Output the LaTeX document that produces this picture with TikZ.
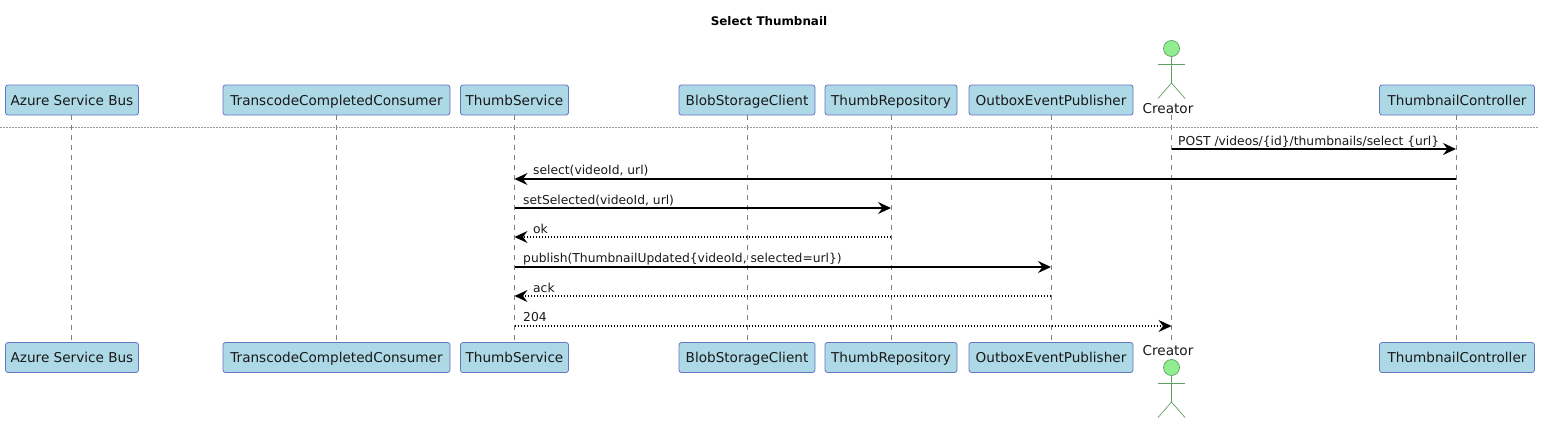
\documentclass[tikz,border=0pt]{standalone}
\usepackage{fontspec}
\setmainfont{DejaVu Sans}
\usepackage{xcolor}
\usepackage{tikz}
\usetikzlibrary{arrows.meta,positioning,calc}
\definecolor{partfill}{HTML}{ADD8E6}
\definecolor{partline}{HTML}{6475C4}
\definecolor{actfill}{HTML}{90EE90}
\definecolor{actline}{HTML}{5F9F5F}

\begin{document}
\begin{tikzpicture}[
    x=1pt, y=-1pt,
    part/.style={rectangle, draw=partline, fill=partfill, line width=0.8pt, minimum height=30pt, inner sep=0pt, text height=11pt, text depth=1pt, rounded corners=2.5pt, text=black!90, font=\fontsize{13.6}{16}\selectfont},
    actorname/.style={inner sep=0pt, text=black!90, font=\fontsize{13.6}{16}\selectfont},
    lifeline/.style={draw=black!50, line width=0.7pt, dash pattern=on 5pt off 5pt},
    divider/.style={draw=black!40, line width=0.6pt, dash pattern=on 2pt off 1pt},
    actorbody/.style={draw=actline, line width=0.7pt},
    actorhead/.style={circle, draw=actline, fill=actfill, line width=0.7pt, minimum size=16pt, inner sep=0pt},
    msg/.style={draw=black, line width=1.5pt, -{Stealth[length=13pt,width=12pt,inset=4.5pt]}},
    reply/.style={msg, dash pattern=on 1.5pt off 1.5pt},
    msglabel/.style={anchor=base west, inner sep=0pt, text=black!90, font=\fontsize{12.3}{14}\selectfont}
]
    \useasboundingbox (0,0) rectangle (1545,423);

    % Title
    \node[inner sep=0pt, font=\fontsize{11.9}{14}\selectfont\bfseries] (title) at (769,21) {Select Thumbnail};

    % Participants, top row
    \node[part, minimum width=133pt] (busT) at (72,100) {Azure Service Bus};
    \node[part, minimum width=227pt] (consumerT) at (336.5,100) {TranscodeCompletedConsumer};
    \node[part, minimum width=108pt] (thumbT) at (514.5,100) {ThumbService};
    \node[part, minimum width=136pt] (blobT) at (747,100) {BlobStorageClient};
    \node[part, minimum width=132pt] (repoT) at (891,100) {ThumbRepository};
    \node[part, minimum width=164pt] (outboxT) at (1051,100) {OutboxEventPublisher};
    \node[part, minimum width=155pt] (ctrlT) at (1457,100) {ThumbnailController};

    % Participants, bottom row
    \node[part, minimum width=133pt] (busB) at (72,357.5) {Azure Service Bus};
    \node[part, minimum width=227pt] (consumerB) at (336.5,357.5) {TranscodeCompletedConsumer};
    \node[part, minimum width=108pt] (thumbB) at (514.5,357.5) {ThumbService};
    \node[part, minimum width=136pt] (blobB) at (747,357.5) {BlobStorageClient};
    \node[part, minimum width=132pt] (repoB) at (891,357.5) {ThumbRepository};
    \node[part, minimum width=164pt] (outboxB) at (1051,357.5) {OutboxEventPublisher};
    \node[part, minimum width=155pt] (ctrlB) at (1457,357.5) {ThumbnailController};

    % Lifeline ends
    \coordinate (busL) at (71.5,115);
    \coordinate (consumerL) at (336.5,115);
    \coordinate (thumbL) at (514.5,115);
    \coordinate (blobL) at (747,115);
    \coordinate (repoL) at (891,115);
    \coordinate (outboxL) at (1051,115);
    \coordinate (creatorL) at (1171.5,115);
    \coordinate (ctrlL) at (1456,115);

    % Lifelines
    \draw[lifeline] (busL) -- (busL |- busB.north);
    \draw[lifeline] (consumerL) -- (consumerL |- consumerB.north);
    \draw[lifeline] (thumbL) -- (thumbL |- thumbB.north);
    \draw[lifeline] (blobL) -- (blobL |- blobB.north);
    \draw[lifeline] (repoL) -- (repoL |- repoB.north);
    \draw[lifeline] (outboxL) -- (outboxL |- outboxB.north);
    \draw[lifeline] (creatorL) -- (creatorL |- ctrlB.north);
    \draw[lifeline] (ctrlL) -- (ctrlL |- ctrlB.north);

    % Divider
    \coordinate (divL) at (0,127);
    \coordinate (divR) at (1539,127);
    \draw[divider] (divL) -- (divR);

    % Creator, top
    \node[actorhead] (headT) at (1171.5,48.5) {};
    \coordinate (hipT) at (1171.5,83);
    \draw[actorbody] (headT.south) -- (hipT);
    \draw[actorbody] (1158,64) -- (1185,64);
    \draw[actorbody] (1158,98.5) -- (hipT) -- (1185,98.5);
    \node[actorname] (creatorNameT) at (1168,109) {Creator};

    % Creator, bottom
    \node[actorhead] (headB) at (1171.5,367.5) {};
    \coordinate (hipB) at (1171.5,402);
    \draw[actorbody] (headB.south) -- (hipB);
    \draw[actorbody] (1158,383) -- (1185,383);
    \draw[actorbody] (1158,417.5) -- (hipB) -- (1185,417.5);
    \node[actorname] (creatorNameB) at (1168,351) {Creator};

    % Messages
    \draw[msg] (creatorL |- 0,149) -- (ctrlL |- 0,149);
    \node[msglabel] (m1) at (1178,145) {POST /videos/\{id\}/thumbnails/select \{url\}};
    \draw[msg] (ctrlL |- 0,179) -- (thumbL |- 0,179);
    \node[msglabel] (m2) at (533,174) {select(videoId, url)};
    \draw[msg] (thumbL |- 0,208) -- (repoL |- 0,208);
    \node[msglabel] (m3) at (523,204) {setSelected(videoId, url)};
    \draw[reply] (repoL |- 0,237) -- (thumbL |- 0,237);
    \node[msglabel] (m4) at (533,233) {ok};
    \draw[msg] (thumbL |- 0,267) -- (outboxL |- 0,267);
    \node[msglabel] (m5) at (523,262) {publish(ThumbnailUpdated\{videoId, selected=url\})};
    \draw[reply] (outboxL |- 0,296) -- (thumbL |- 0,296);
    \node[msglabel] (m6) at (533,292) {ack};
    \draw[reply] (thumbL |- 0,326) -- (creatorL |- 0,326);
    \node[msglabel] (m7) at (523,321) {204};
\end{tikzpicture}
\end{document}
